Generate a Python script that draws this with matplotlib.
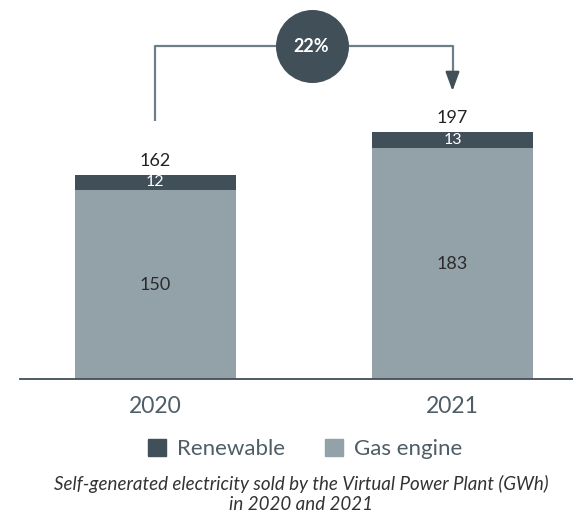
import matplotlib
matplotlib.use("Agg")
import matplotlib.pyplot as plt
from matplotlib.patches import Patch

# Data (GWh)
years = ["2020", "2021"]
gas_engine = [150, 183]
renewable = [12, 13]
totals = [162, 197]
growth_label = "22%"

DARK = "#414f58"
GREY = "#93a1a8"
TEXT = "#4f5d66"
LINE = "#6f7f88"

plt.rcParams["font.family"] = ["Lato", "DejaVu Sans"]

W, H = 573, 519
fig = plt.figure(figsize=(W / 100, H / 100), dpi=100)

# axes frame in pixel terms: baseline at y=379, spans x 20..573
base_px = 379
px_per_unit = 1.26
ax = fig.add_axes([20 / W, (H - base_px) / H, 1 - 20 / W, base_px / H])
ax.set_ylim(0, base_px / px_per_unit)

cx0, cx1, pitch = 155.5, 452.5, 297.0
ax.set_xlim((20 - cx0) / pitch, (W - cx0) / pitch)
xs = list(range(len(years)))
bw = 161 / pitch

ax.bar(xs, gas_engine, width=bw, color=GREY, zorder=2)
ax.bar(xs, renewable, width=bw, bottom=gas_engine, color=DARK, zorder=2)

for x, g, r, t in zip(xs, gas_engine, renewable, totals):
    ax.text(x, g / 2, f"{g}", ha="center", va="center", fontsize=13,
            color="#2b2b2b")
    ax.text(x, g + r / 2, f"{r}", ha="center", va="center", fontsize=11.5,
            color="white")
    ax.annotate(f"{t}", (x, g + r), xytext=(0, 4), textcoords="offset points",
                ha="center", va="bottom", fontsize=13, color="#222222")

# growth bracket with arrow
y_top = (base_px - 46) / px_per_unit
y_left = (base_px - 121) / px_per_unit
y_tip = (base_px - 91) / px_per_unit
ax.plot([xs[0], xs[0], xs[1], xs[1]], [y_left, y_top, y_top, y_tip + 12],
        color=LINE, lw=1.6, zorder=3, solid_capstyle="butt")
ax.annotate("", xy=(xs[1], y_tip), xytext=(xs[1], y_tip + 13),
            arrowprops=dict(arrowstyle="-|>,head_length=1.15,head_width=0.42",
                            color=DARK, lw=1.6, shrinkA=0, shrinkB=0), zorder=4)
xc = (311.5 - cx0) / pitch
ax.plot([xc], [y_top], marker="o", markersize=73 * 0.72, color=DARK,
        markeredgewidth=0, zorder=5, clip_on=False)
ax.text(xc, y_top, growth_label, ha="center", va="center", color="white",
        fontsize=13, fontweight="bold", zorder=6)

for s in ["top", "right", "left"]:
    ax.spines[s].set_visible(False)
ax.spines["bottom"].set_color(DARK)
ax.spines["bottom"].set_linewidth(1.3)
ax.set_yticks([])
ax.set_xticks(xs)
ax.set_xticklabels(years, fontsize=16.5, color=TEXT)
ax.tick_params(axis="x", length=0, pad=12)

handles = [Patch(color=DARK, label="Renewable"), Patch(color=GREY, label="Gas engine")]
fig.legend(handles=handles, loc="center", bbox_to_anchor=(305 / W, 1 - 449 / H),
           ncol=2, frameon=False, handlelength=0.8, handleheight=0.8,
           handletextpad=0.5, columnspacing=1.8, labelcolor=TEXT,
           prop=dict(size=16))

fig.text(301 / W, 1 - 494 / H,
         "Self-generated electricity sold by the Virtual Power Plant (GWh)\nin 2020 and 2021",
         ha="center", va="center", fontsize=13.5, style="italic", color="#333333",
         linespacing=1.15)

fig.savefig("out.png", dpi=100)
